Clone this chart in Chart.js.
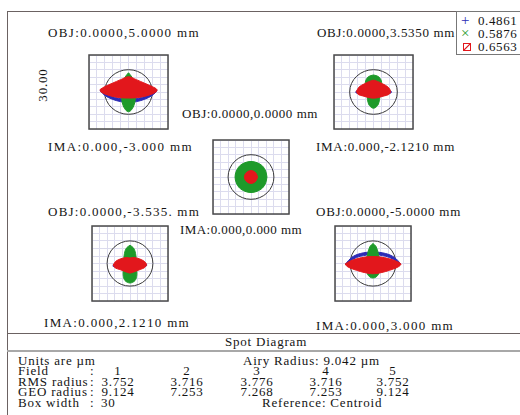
<!DOCTYPE html>
<html>
<head>
<meta charset="utf-8">
<script src="https://cdn.jsdelivr.net/npm/chart.js@4.4.0/dist/chart.umd.min.js"></script>
<style>
  html, body { margin: 0; padding: 0; background: #fff; }
  #page { position: relative; width: 520px; height: 415px; overflow: hidden;
          font-family: "Liberation Serif", "Times New Roman", serif; color: #141414; }
  .lbl { position: absolute; font-size: 13px; line-height: 14px; white-space: nowrap; }
  .spot { position: absolute; }
  .rule { position: absolute; left: 7px; right: 0; height: 0; }
  .cell { position: absolute; font-size: 13px; line-height: 10px; white-space: nowrap; letter-spacing: 0.8px; }
  .num { transform: translateX(-50%); }
  #legend { position: absolute; left: 456px; top: 11px; width: 70px; height: 42px;
            border: 1px solid #777; border-right: none; }
  .lg { position: absolute; left: 21px; font-size: 13px; line-height: 13px; letter-spacing: 0.6px; }
  .mk { position: absolute; left: 4px; font-size: 15px; line-height: 13px; }
</style>
</head>
<body>
<div id="page">
  <div style="position:absolute;left:7px;top:11px;width:0;height:410px;border-left:1px solid #6b6262"></div>
  <div class="rule" style="top:11px;border-top:1px solid #6b6262"></div>
  <div class="rule" style="top:333px;border-top:1px solid #6b6262"></div>
  <div class="rule" style="top:350px;border-top:2px solid #a8a8a8"></div>
  <div id="legend"></div>
</div>
<script>
// ---- data ----
const fields = ['1', '2', '3', '4', '5'];
const objLabels = ['OBJ:0.0000,5.0000 mm', 'OBJ:0.0000,3.5350 mm', 'OBJ:0.0000,0.0000 mm',
                   'OBJ:0.0000,-3.535. mm', 'OBJ:0.0000,-5.0000 mm'];
const imaLabels = ['IMA:0.000,-3.000 mm', 'IMA:0.000,-2.1210 mm', 'IMA:0.000,0.000 mm',
                   'IMA:0.000,2.1210 mm', 'IMA:0.000,3.000 mm'];
const rmsRadius = ['3.752', '3.716', '3.776', '3.716', '3.752'];
const geoRadius = ['9.124', '7.253', '7.268', '7.253', '9.124'];
const wavelengths = ['0.4861', '0.5876', '0.6563'];
const airyRadius = 9.042;   // µm
const boxWidth = 30;        // µm

// spot outlines (µm, relative to centroid), one per field
const spotBlue = [
  [[-10.8,0.6],[-9,-1.4],[-6,-3.0],[-3,-3.9],[0,-4.3],[3,-3.9],[6,-3.0],[9,-1.4],[10.8,0.6],
   [10,0.8],[8,-0.6],[5,-2.2],[0,-3.0],[-5,-2.2],[-8,-0.6],[-10,0.8]],
  [[-6.6,0.4],[-3,0.8],[0,0.8],[3,0.8],[6.6,0.4],[6.6,-0.4],[3,-0.6],[0,-0.6],[-3,-0.6],[-6.6,-0.4]],
  [[6,0],[4.2,4.2],[0,6],[-4.2,4.2],[-6,0],[-4.2,-4.2],[0,-6],[4.2,-4.2]],
  [[-6.6,-0.4],[-3,0.2],[0,0.4],[3,0.2],[6.4,-0.2],[6.4,-1.0],[3,-1.2],[0,-1.2],[-3,-1.2],[-6.6,-1.2]],
  [[-10.8,-0.2],[-8.5,2.4],[-5,4.0],[0,4.6],[5,4.0],[8.5,2.4],[10.8,-0.2],
   [10,-0.4],[8,1.6],[5,2.9],[0,3.5],[-5,2.9],[-8,1.6],[-10,-0.4]]
];
const spotGreen = [
  [[0,7.8],[1.3,6],[2.2,3],[2.7,0],[2.6,-3],[2,-5.6],[1,-7.4],[0,-8],[-1,-7.4],[-2,-5.6],[-2.6,-3],[-2.7,0],[-2.2,3],[-1.3,6]],
  [[0,6.9],[1.8,6.3],[2.9,4.8],[3.1,3],[2.6,0],[2.3,-3],[1.6,-5.4],[0,-6.6],[-1.6,-5.4],[-2.3,-3],[-2.6,0],[-3.1,3],[-2.9,4.8],[-1.8,6.3]],
  [[6.3,0],[5.8,2.4],[4.5,4.5],[2.4,5.8],[0,6.3],[-2.4,5.8],[-4.5,4.5],[-5.8,2.4],[-6.3,0],[-5.8,-2.4],[-4.5,-4.5],[-2.4,-5.8],[0,-6.3],[2.4,-5.8],[4.5,-4.5],[5.8,-2.4]],
  [[0,7.3],[1.4,6.2],[2.2,4],[2.5,1],[2.6,-2],[2.7,-4.5],[2,-6.8],[0,-7.8],[-2,-6.8],[-2.7,-4.5],[-2.6,-2],[-2.5,1],[-2.2,4],[-1.4,6.2]],
  [[0,8.0],[1.2,6.8],[2.1,4],[2.6,1],[2.7,-2],[2.2,-4.2],[1.2,-5.4],[0,-5.8],[-1.2,-5.4],[-2.2,-4.2],[-2.7,-2],[-2.6,1],[-2.1,4],[-1.2,6.8]]
];
const spotRed = [
  [[-10.8,1.0],[-9,2.2],[-6,3.6],[-3,5.0],[0,6.2],[3,5.0],[6,3.6],[9,2.2],[10.8,1.0],
   [10.4,0],[8,-1.2],[5,-2.0],[2,-2.4],[-2,-2.4],[-5,-2.0],[-8,-1.2],[-10.4,0]],
  [[-6.5,0.2],[-5.5,2.0],[-3.5,3.3],[-1.5,4.3],[0,4.8],[1.5,4.3],[3.5,3.3],[5.5,2.0],[6.5,0.2],
   [5.8,-1.0],[4,-1.6],[2,-2.2],[0,-2.5],[-2,-2.2],[-4,-1.6],[-5.8,-1.0]],
  [[2.6,0],[1.8,1.8],[0,2.6],[-1.8,1.8],[-2.6,0],[-1.8,-1.8],[0,-2.6],[1.8,-1.8]],
  [[-6.6,-0.6],[-5.6,0.9],[-3.6,1.9],[-1.5,2.4],[0,2.2],[1.5,2.4],[3.6,1.9],[5.6,0.9],[6.5,-0.4],
   [5.8,-1.6],[4,-2.4],[2,-3.2],[0,-3.8],[-2,-3.2],[-4,-2.4],[-5.8,-1.8]],
  [[-11,-0.2],[-9,1.0],[-6,2.0],[-3,2.6],[0,2.8],[3,2.6],[6,2.0],[9,1.0],[11,-0.2],
   [10.2,-1.2],[8,-2.2],[5,-3.2],[2,-3.9],[0,-4.1],[-2,-3.9],[-5,-3.2],[-8,-2.2],[-10.2,-1.2]]
];

const BLUE = '#2b2bb5', GREEN = '#1e9a2a', RED = '#e2171c';

// ---- layout ----
const page = document.getElementById('page');
const boxes = [
  { x: 89,  y: 55,  w: 79, h: 74 },
  { x: 334, y: 55,  w: 79, h: 74 },
  { x: 213, y: 140, w: 76, h: 74 },
  { x: 92,  y: 226, w: 76, h: 75 },
  { x: 335, y: 226, w: 76, h: 75 }
];
const objPos = [[48, 33, 152], [317, 33, 138], [182, 114, 136], [48, 212, 152], [316, 212, 145]];
const imaPos = [[48, 147, 145], [316, 147, 139], [180, 230, 122], [44, 323, 146], [316, 326, 138]];

function addLabel(text, x, cy, w) {
  const el = document.createElement('div');
  el.className = 'lbl';
  el.textContent = text;
  el.style.left = x + 'px';
  el.style.top = (cy - 7) + 'px';
  page.appendChild(el);
  const natural = el.getBoundingClientRect().width;
  el.style.letterSpacing = ((w - natural) / text.length).toFixed(2) + 'px';
}

const airyRing = {
  id: 'airyRing',
  beforeDatasetsDraw(chart) {
    const { ctx, scales: { x, y } } = chart;
    const cx = x.getPixelForValue(0), cy = y.getPixelForValue(0);
    const rx = x.getPixelForValue(airyRadius) - cx;
    const ry = cy - y.getPixelForValue(airyRadius);
    ctx.save();
    ctx.strokeStyle = '#3a3a3a';
    ctx.lineWidth = 1;
    ctx.beginPath();
    ctx.ellipse(cx, cy, rx, ry, 0, 0, Math.PI * 2);
    ctx.stroke();
    ctx.restore();
  }
};
const boxFrame = {
  id: 'boxFrame',
  afterDraw(chart) {
    const { ctx, chartArea: a } = chart;
    ctx.save();
    ctx.strokeStyle = '#4a4a4a';
    ctx.lineWidth = 1.5;
    ctx.strokeRect(a.left, a.top, a.right - a.left, a.bottom - a.top);
    ctx.restore();
  }
};

function poly(pts, color, order) {
  return {
    data: pts.concat([pts[0]]).map(p => ({ x: p[0], y: p[1] })),
    showLine: true, fill: 'shape', tension: 0.35,
    borderColor: color, backgroundColor: color, borderWidth: 1,
    pointRadius: 0, order
  };
}

const half = boxWidth / 2;
const axis = (fitKey) => ({
  min: -half, max: half,
  ticks: { display: false, stepSize: boxWidth / 10 },
  grid: { color: '#dcdcee', lineWidth: 1, drawTicks: false },
  border: { display: false },
  afterFit: s => { s[fitKey] = 0; }
});

fields.forEach((f, i) => {
  const b = boxes[i];
  const cv = document.createElement('canvas');
  cv.className = 'spot';
  cv.width = b.w + 2; cv.height = b.h + 2;
  cv.style.left = (b.x - 1) + 'px';
  cv.style.top = (b.y - 1) + 'px';
  page.appendChild(cv);
  new Chart(cv, {
    type: 'scatter',
    data: {
      datasets: [
        poly(spotRed[i], RED, 0),
        poly(spotGreen[i], GREEN, 1),
        poly(spotBlue[i], BLUE, 2)
      ]
    },
    options: {
      responsive: false,
      animation: false,
      events: [],
      layout: { padding: 1 },
      plugins: { legend: { display: false }, tooltip: { enabled: false } },
      scales: { x: axis('height'), y: axis('width') }
    },
    plugins: [airyRing, boxFrame]
  });
  addLabel(objLabels[i], objPos[i][0], objPos[i][1], objPos[i][2]);
  addLabel(imaLabels[i], imaPos[i][0], imaPos[i][1], imaPos[i][2]);
});

// box width tag
const bw = document.createElement('div');
bw.className = 'lbl';
bw.textContent = boxWidth.toFixed(2);
bw.style.cssText += 'left:25px;top:78px;width:36px;text-align:center;transform:rotate(-90deg);letter-spacing:0.8px;';
page.appendChild(bw);

// legend
const legend = document.getElementById('legend');
const marks = ['+', '\u00d7', ''];
const markColors = [BLUE, GREEN, RED];
wavelengths.forEach((w, i) => {
  const m = document.createElement('div');
  m.className = 'mk';
  m.style.top = (2 + i * 13) + 'px';
  m.style.color = markColors[i];
  if (i === 2) {
    m.style.cssText += 'left:6px;top:' + (5 + i * 13) + 'px;width:6px;height:6px;border:1px solid ' + RED +
      ';background:linear-gradient(135deg,transparent 40%,' + RED + ' 45%,' + RED + ' 55%,transparent 60%);';
  } else {
    m.textContent = marks[i];
  }
  legend.appendChild(m);
  const t = document.createElement('div');
  t.className = 'lg';
  t.style.top = (2 + i * 13) + 'px';
  t.textContent = w;
  legend.appendChild(t);
});

// footer
function cell(text, x, cy, center) {
  const el = document.createElement('div');
  el.className = 'cell' + (center ? ' num' : '');
  el.textContent = text;
  el.style.left = x + 'px';
  el.style.top = (cy - 5) + 'px';
  page.appendChild(el);
}
cell('Spot Diagram', 266, 342, true);
const rowY = [361, 371, 382, 392, 403];
const colX = [118, 187, 257, 326, 393];
cell('Units are \u00b5m', 18, rowY[0]);
cell('Airy Radius: ' + airyRadius.toFixed(3) + ' \u00b5m', 243, rowY[0]);
[['Field', fields], ['RMS radius', rmsRadius], ['GEO radius', geoRadius]].forEach(([name, vals], r) => {
  cell(name, 18, rowY[r + 1]);
  cell(':', 90, rowY[r + 1]);
  vals.forEach((v, c) => cell(v, colX[c], rowY[r + 1], true));
});
cell('Box width', 18, rowY[4]);
cell(':', 90, rowY[4]);
cell(String(boxWidth), 101, rowY[4]);
cell('Reference:  Centroid', 262, rowY[4]);
</script>
</body>
</html>
